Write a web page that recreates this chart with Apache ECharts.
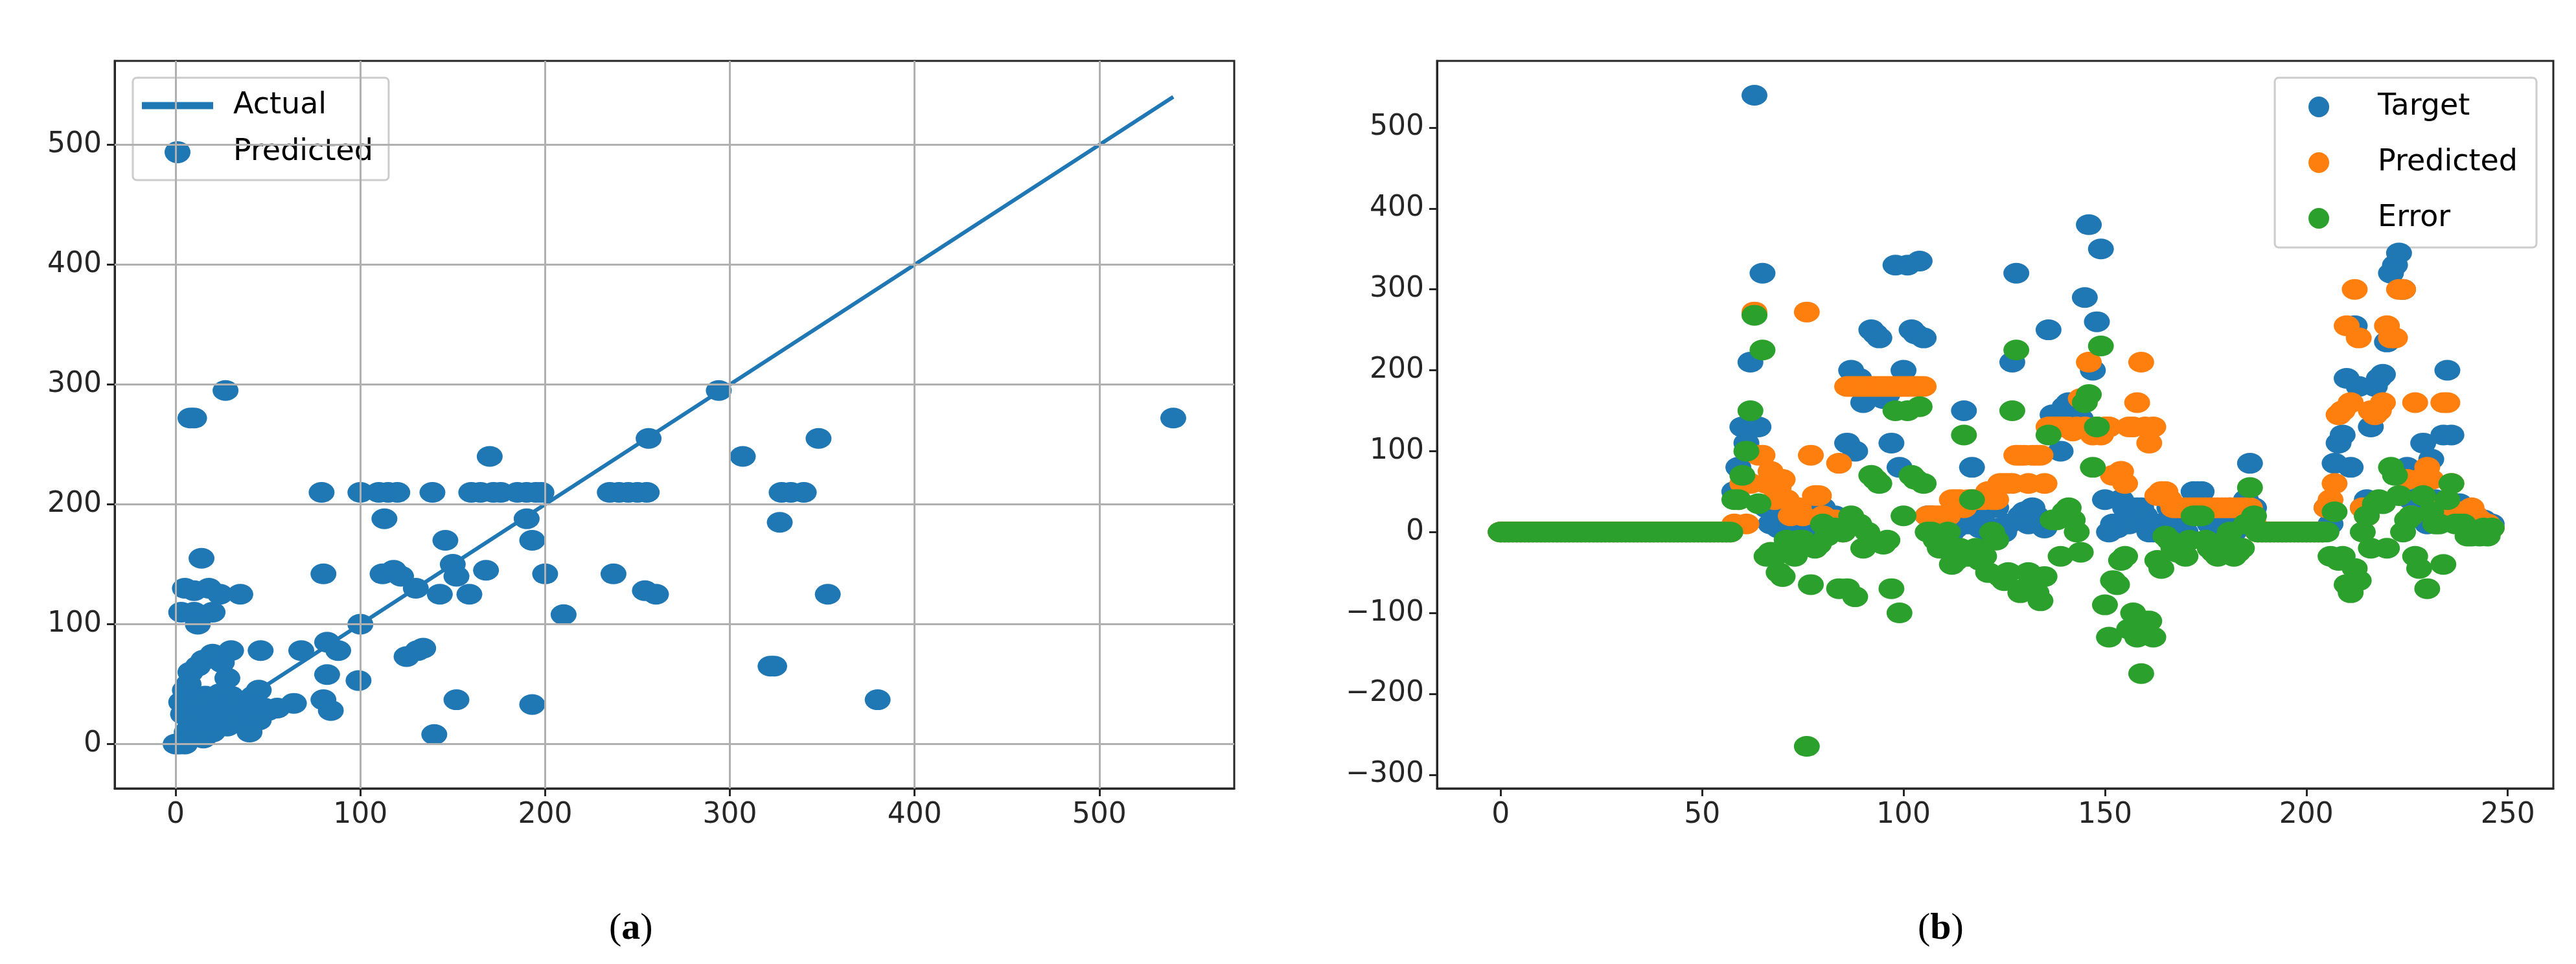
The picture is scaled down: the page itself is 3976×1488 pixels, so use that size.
<!DOCTYPE html>
<html><head><meta charset="utf-8">
<script src="https://cdn.jsdelivr.net/npm/echarts@6/dist/echarts.min.js"></script>
<style>html,body{margin:0;padding:0;background:#fff}#c{width:3976px;height:1488px}</style>
</head><body><div id="c"></div>
<script>
// ---- Left panel (a): actual vs predicted ----
const actualLine = [[0,0],[540,540]];
const scatterActual = [540,27,8,10,294,256,348,307,170,
 79,100,110,115,120,139,160,165,172,176,185,190,195,198,235,240,245,250,255,328,333,340,
 113,190,327,193,146,150,152,168,80,112,118,122,200,237,254,260,353,143,159,130,210,100,324,322,380,193,152,140,99,125,131,134,82,82,88,68,46,64,80,84,
 0,2,5,3,5,10,14,12,20,18,24,35,10,8,12,15,20,25,30,28,5,7,3,10,12,15,18,20,22,25,28,30,33,35,38,40,42,45,48,50,55,6,8,4,16,24,30,35,45,40,20,10,15];
const scatterPredicted = [272,295,272,272,295,255,255,240,240,
 210,210,210,210,210,210,210,210,210,210,210,210,210,210,210,210,210,210,210,210,210,210,
 188,188,185,170,170,150,140,145,142,142,145,140,142,142,128,125,125,125,125,130,108,100,65,65,37,33,37,8,53,73,78,80,58,85,78,78,78,34,37,28,
 0,0,0,110,130,110,155,100,110,130,125,125,128,60,65,70,75,68,78,55,45,50,35,30,20,15,25,35,20,30,15,25,20,30,35,25,40,45,30,28,30,10,15,25,40,42,40,18,20,10,10,8,5];
const xTicksA = [0,100,200,300,400,500];
const yTicksA = [0,100,200,300,400,500];

// ---- Right panel (b): per-sample target / predicted / error ----
const target = [
 0,0,0,0,0,0,0,0,0,0, 0,0,0,0,0,0,0,0,0,0, 0,0,0,0,0,0,0,0,0,0, 0,0,0,0,0,0,0,0,0,0, 0,0,0,0,0,0,0,0,0,0, 0,0,0,0,0,0,0,0,
 50,80,130,110,210,540,130,320,30,10,
 10,5,10,30,5,0,20,10,7,30,
 25,30,30,5,10,20,15,0,110,200,
 100,190,160,180,250,245,240,165,170,110,
 330,80,200,330,250,245,335,240,20,20,
 10,0,15,20,0,5,20,150,10,80,
 20,5,10,0,40,30,5,0,10,210,
 320,20,25,10,30,20,10,5,250,145,
 145,100,155,160,140,130,140,290,380,200,
 260,350,40,0,10,5,40,30,10,30,
 30,30,20,0,0,10,5,45,30,10,
 5,10,0,20,50,50,50,20,10,5,
 0,10,20,30,0,5,10,40,85,30,
 0,0,0,0,0,0,0,0,0,0,
 0,0,0,0,0,0,0,30,10,85,
 110,120,190,80,255,180,30,40,130,180,
 190,195,235,320,330,345,300,80,40,65,
 20,110,10,90,40,30,120,200,120,35,
 35,30,20,25,20,10,15,5,10];
const predicted = [
 0,0,0,0,0,0,0,0,0,0, 0,0,0,0,0,0,0,0,0,0, 0,0,0,0,0,0,0,0,0,0, 0,0,0,0,0,0,0,0,0,0, 0,0,0,0,0,0,0,0,0,0, 0,0,0,0,0,0,0,0,
 10,40,60,10,60,272,95,95,60,75,
 40,55,65,40,20,30,30,20,272,95,
 45,45,20,10,10,15,85,0,180,180,
 180,180,180,180,180,180,180,180,180,180,
 180,180,180,180,180,180,180,180,20,20,
 20,20,20,20,40,40,40,30,40,40,
 40,40,40,50,40,40,60,60,60,60,
 95,95,95,60,95,95,95,60,130,130,
 130,130,130,130,125,130,165,130,210,120,
 130,120,130,130,70,70,75,60,130,130,
 160,210,130,110,130,45,50,50,40,30,
 30,30,30,30,30,30,30,30,30,30,
 30,30,30,30,30,30,30,30,30,10,
 0,0,0,0,0,0,0,0,0,0,
 0,0,0,0,0,0,0,30,40,60,
 145,150,255,160,300,240,30,20,150,145,
 150,160,255,240,240,300,300,65,20,160,
 65,65,80,65,30,20,160,160,60,25,
 25,20,25,30,20,15,10,10,5];
const errorVals = [
 0,0,0,0,0,0,0,0,0,0, 0,0,0,0,0,0,0,0,0,0, 0,0,0,0,0,0,0,0,0,0, 0,0,0,0,0,0,0,0,0,0, 0,0,0,0,0,0,0,0,0,0, 0,0,0,0,0,0,0,0,
 40,40,70,100,150,268,35,225,-30,-25,
 -30,-50,-55,-10,-15,-30,-10,-10,-265,-65,
 -20,-15,10,-5,0,5,-70,0,-70,20,
 -80,10,-20,0,70,65,60,-15,-10,-70,
 150,-100,20,150,70,65,155,60,0,0,
 -10,-20,-5,0,-40,-35,-20,120,-30,40,
 -20,-35,-30,-50,0,-10,-55,-60,-50,150,
 225,-75,-70,-50,-65,-75,-85,-55,120,15,
 15,-30,25,30,15,0,-25,160,170,80,
 130,230,-90,-130,-60,-65,-35,-30,-120,-100,
 -130,-175,-110,-110,-130,-35,-45,-5,-10,-20,
 -25,-20,-30,-10,20,20,20,-10,-20,-25,
 -30,-20,-10,0,-30,-25,-20,10,55,20,
 0,0,0,0,0,0,0,0,0,0,
 0,0,0,0,0,0,0,0,-30,25,
 -35,-30,-65,-75,-45,-60,0,20,-20,35,
 40,35,-20,80,70,45,0,15,20,-30,
 -45,45,-70,25,10,10,-40,40,60,10,
 10,10,-5,-5,0,-5,5,-5,5];
const xTicksB = [0,50,100,150,200,250];
const yTicksB = [-300,-200,-100,0,100,200,300,400,500];

const pairsA = scatterActual.map((v,i)=>[v,scatterPredicted[i]]);
const idx = v => v.map((y,i)=>[i,y]);

const FONT = 'DejaVu Sans';
const lab = {color:'#262626', fontSize:44, fontFamily:FONT, margin:20};
function axis(min,max,ticks,gridIndex){
  return {type:'value', gridIndex, min, max,
    axisLine:{show:true,onZero:false,lineStyle:{color:'#262626',width:3}},
    axisTick:{show:true,length:12,inside:false,customValues:ticks,lineStyle:{color:'#262626',width:3}},
    axisLabel:Object.assign({customValues:ticks, formatter:v=>String(v).replace('-','\u2212')},lab),
    splitLine:{show:false}};
}
const blue='#1f77b4', orange='#ff7f0e', green='#2ca02c';
const SZ=[40,32];
const centeredDot = 'path://M0,0L0.01,0ZM110,36L109.99,36ZM35,18A20,17 0 1,0 75,18A20,17 0 1,0 35,18Z';
const chart = echarts.init(document.getElementById('c'),null,{renderer:'canvas'});
chart.setOption({
  animation:false,
  backgroundColor:'#fff',
  grid:[{left:177,top:94,width:1728,height:1123,show:true,borderColor:'#262626',borderWidth:3},
        {left:2218,top:94,width:1723,height:1123,show:true,borderColor:'#262626',borderWidth:3}],
  xAxis:[axis(-33,573,xTicksA,0), axis(-15.8,261.3,xTicksB,1)],
  yAxis:[axis(-37,570,yTicksA,0), axis(-317,582.5,yTicksB,1)],
  legend:[
    {left:205,top:120,orient:'vertical',padding:[20,24,20,14],itemGap:26,itemWidth:110,itemHeight:36,
     borderColor:'#cccccc',borderWidth:3,borderRadius:6,backgroundColor:'rgba(255,255,255,0.85)',
     textStyle:{fontFamily:FONT,fontSize:46,color:'#000',padding:[0,0,0,26]},
     data:[{name:'Actual',icon:'path://M0,0H10V1H0Z',itemStyle:{color:blue}},{name:'Predicted',icon:centeredDot,itemStyle:{color:blue}}],selectedMode:false},
    {right:61,top:120,orient:'vertical',padding:[22,29,22,52],itemGap:40,itemWidth:38,itemHeight:32,
     borderColor:'#cccccc',borderWidth:3,borderRadius:6,backgroundColor:'rgba(255,255,255,0.85)',
     textStyle:{fontFamily:FONT,fontSize:46,color:'#000',padding:[0,0,0,67]},
     data:[{name:'Target',icon:'circle',itemStyle:{color:blue}},{name:'Predicted',icon:'circle',itemStyle:{color:orange}},{name:'Error',icon:'circle',itemStyle:{color:green}}],selectedMode:false}
  ],
  series:[
    {name:'GridA',type:'line',xAxisIndex:0,yAxisIndex:0,data:[],silent:true,
     markLine:{symbol:'none',silent:true,label:{show:false},lineStyle:{color:'#b0b0b0',width:3,type:'solid'},
       data:xTicksA.map(v=>({xAxis:v})).concat(yTicksA.map(v=>({yAxis:v})))}},
    {name:'Actual',type:'line',xAxisIndex:0,yAxisIndex:0,data:actualLine,symbol:'none',lineStyle:{color:blue,width:6},itemStyle:{color:blue},z:3},
    {name:'Predicted',type:'scatter',xAxisIndex:0,yAxisIndex:0,data:pairsA,symbolSize:SZ,itemStyle:{color:blue,opacity:1},z:4},
    {name:'Target',type:'scatter',xAxisIndex:1,yAxisIndex:1,data:idx(target),symbolSize:SZ,itemStyle:{color:blue,opacity:1},z:4},
    {name:'Predicted',type:'scatter',xAxisIndex:1,yAxisIndex:1,data:idx(predicted),symbolSize:SZ,itemStyle:{color:orange,opacity:1},z:5},
    {name:'Error',type:'scatter',xAxisIndex:1,yAxisIndex:1,data:idx(errorVals),symbolSize:SZ,itemStyle:{color:green,opacity:1},z:6}
  ],
  graphic:[
    {type:'text',left:940,top:1405,style:{text:'({a|a})',font:'58px "Liberation Serif"',fill:'#000',rich:{a:{font:'bold 58px "Liberation Serif"'}}}},
    {type:'text',left:2960,top:1405,style:{text:'({a|b})',font:'58px "Liberation Serif"',fill:'#000',rich:{a:{font:'bold 58px "Liberation Serif"'}}}}
  ]
});
</script></body></html>
